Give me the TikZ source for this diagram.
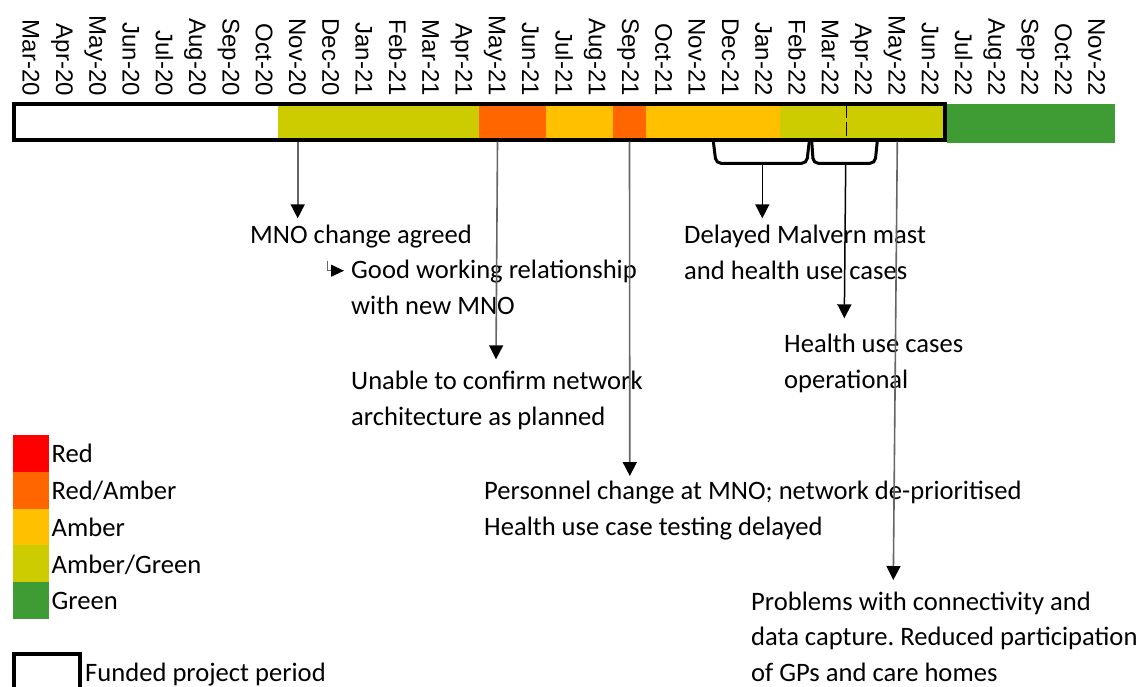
\documentclass[tikz,border=0pt]{standalone}
\usepackage{fontspec}
\setmainfont{Carlito}
\newfontfamily\monthfont{Liberation Sans}
\usetikzlibrary{arrows.meta}

\definecolor{ragRed}{HTML}{FF0000}
\definecolor{ragRedAmber}{HTML}{FF6600}
\definecolor{ragAmber}{HTML}{FFC000}
\definecolor{ragAmberGreen}{HTML}{CCCC00}
\definecolor{ragGreen}{HTML}{3F9C35}
\definecolor{leader}{HTML}{666666}

% invisible strut fixing the height of a note's first line
\newcommand{\firstline}{\rule{0pt}{22pt}}
\frenchspacing

\begin{document}
\begin{tikzpicture}[x=1pt, y=-1pt,
  month/.style={font=\monthfont\fontsize{24}{24}\selectfont, rotate=-90,
    anchor=base east, inner sep=0pt},
  note/.style={font=\fontsize{26.6}{35.5}\selectfont, align=left,
    anchor=north west, inner sep=0pt},
  legendtext/.style={font=\fontsize{26.6}{30}\selectfont, anchor=base west,
    inner sep=0pt},
  tip/.style={-{Triangle[length=14pt, width=14pt, color=black]}},
  barlead/.style={tip, draw=leader, line width=1.6pt},
  bracelead/.style={tip, draw=black, line width=1.5pt},
  bracket/.style={draw=black, line width=3pt, rounded corners=5pt},
  periodbox/.style={draw=black, line width=4pt},
]
\useasboundingbox (0,0) rectangle (1138,686);
\clip (0,0) rectangle (1138,686);

% month axis
\foreach \m [count=\i from 0] in {Mar-20,Apr-20,May-20,Jun-20,Jul-20,Aug-20,Sep-20,Oct-20,
    Nov-20,Dec-20,Jan-21,Feb-21,Mar-21,Apr-21,May-21,Jun-21,Jul-21,Aug-21,Sep-21,Oct-21,
    Nov-21,Dec-21,Jan-22,Feb-22,Mar-22,Apr-22,May-22,Jun-22,Jul-22,Aug-22,Sep-22,Oct-22,Nov-22}
  \node[month] (m\i) at (22.7+33.3*\i, 96) {\m};

% RAG status bar, one slot per month
\foreach \a/\b/\c in {8/14/ragAmberGreen,14/16/ragRedAmber,16/18/ragAmber,18/19/ragRedAmber,
    19/23/ragAmber,23/28/ragAmberGreen}
  \fill[\c] (10.7+33.45*\a, 104) rectangle (10.7+33.45*\b, 140);
\fill[ragGreen] (10.7+33.45*28, 104.3) rectangle (10.7+33.45*33, 142.6);

% funded project period
\draw[periodbox] (13.7,104.3) rectangle (945.3,139.7);
\draw[line width=1.8pt, dash pattern=on 14pt off 3.5pt] (846.5,104.3) -- (846.5,140);

% brackets grouping months
\draw[bracket] (713.3,141) -- (716,163.3) -- (806.7,163.3) -- (809.3,141);
\draw[bracket] (811.7,141) -- (813.3,163.3) -- (875,163.3) -- (877.3,141);

% notes
\node[note] (mno) at (250, 243.3-22) {\firstline MNO change agreed};
\node[note] (good) at (351, 278.5-22) {\firstline Good working relationship\\with new MNO};
\node[note] (unable) at (351, 389.5-22) {\firstline Unable to confirm network\\architecture as planned};
\node[note] (personnel) at (484, 499.5-22) {\firstline Personnel change at MNO; network de-prioritised\\Health use case testing delayed};
\node[note] (malvern) at (684, 243.5-22) {\firstline Delayed Malvern mast\\and health use cases};
\node[note] (health) at (784, 352.5-22) {\firstline Health use cases\\operational};
\node[note] (problems) at (751, 610-22) {\firstline Problems with connectivity and\\data capture. Reduced participation\\of GPs and care homes};

% leader end points
\coordinate (s1) at (297.7,141.7);  \coordinate (t1) at (297.7,218.3);
\coordinate (s2) at (497.5,141.7);  \coordinate (t2) at (496,359.3);
\coordinate (s3) at (629.5,141.7);  \coordinate (t3) at (629.8,476);
\coordinate (b1) at (762.3,163.3);  \coordinate (u1) at (762.3,218.3);
\coordinate (b2) at (845.7,163.3);  \coordinate (u2) at (844.3,318.3);
\coordinate (s4) at (897.3,141.7);  \coordinate (t4) at (893.3,580);
\coordinate (e1) at (327.3,260.7);  \coordinate (e2) at (344,270.7);

% leaders
\draw[barlead] (s1) -- (t1);
\draw[barlead] (s2) -- (t2);
\draw[barlead] (s3) -- (t3);
\draw[bracelead] (b1) -- (u1);
\draw[bracelead] (b2) -- (u2);
\draw[barlead] (s4) -- (t4);
\draw[draw=leader, line width=1.1pt, -{Triangle[length=13pt, width=12pt, color=black]}] (e1) |- (e2);

% legend
\foreach \c/\t [count=\k from 0] in {ragRed/Red,ragRedAmber/Red\slash Amber,ragAmber/Amber,
    ragAmberGreen/Amber\slash Green,ragGreen/Green} {
  \fill[\c] (12.7, 435+36.8*\k) rectangle (49, 435+36.8*\k+36.8);
  \node[legendtext] (leg\k) at (51.5, 462.7+36.8*\k) {\t};
}
\draw[periodbox] (13.7,654) rectangle (79.7,720);
\node[legendtext] (legperiod) at (85, 681) {Funded project period};
\end{tikzpicture}
\end{document}
